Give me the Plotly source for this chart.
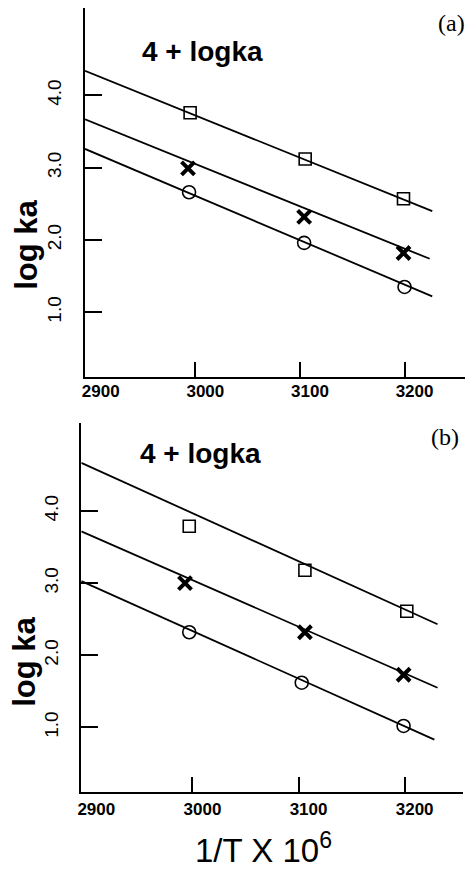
import plotly.graph_objects as go

W, H = 465, 870

# ---------------- data ----------------
# panel (a)
a_sq_x = [2995, 3105, 3199]
a_sq_y = [3.76, 3.12, 2.57]
a_cr_x = [2993, 3104, 3199]
a_cr_y = [2.99, 2.32, 1.82]
a_ci_x = [2994, 3104, 3200]
a_ci_y = [2.66, 1.96, 1.35]
a_fit_sq_x = [2894.5, 3226.5]
a_fit_sq_y = [4.34, 2.40]
a_fit_cr_x = [2894.5, 3224.0]
a_fit_cr_y = [3.67, 1.74]
a_fit_ci_x = [2894.5, 3226.5]
a_fit_ci_y = [3.26, 1.22]

# panel (b)
b_sq_x = [2997, 3106, 3202]
b_sq_y = [3.79, 3.18, 2.61]
b_cr_x = [2993, 3106, 3199]
b_cr_y = [3.00, 2.32, 1.73]
b_ci_x = [2997, 3103, 3199]
b_ci_y = [2.32, 1.62, 1.02]
b_fit_sq_x = [2895.3, 3231.0]
b_fit_sq_y = [4.67, 2.43]
b_fit_cr_x = [2895.3, 3231.0]
b_fit_cr_y = [3.72, 1.55]
b_fit_ci_x = [2895.3, 3228.0]
b_fit_ci_y = [3.03, 0.83]

x_tick_vals = [2900, 3000, 3100, 3200]
x_tick_text = ["<b>2900</b>", "<b>3000</b>", "<b>3100</b>", "<b>3200</b>"]
x_mark_vals = [3000, 3100, 3200]
y_tick_vals = [1, 2, 3, 4]
y_tick_text = ["1.0", "2.0", "3.0", "4.0"]

FONT = "Liberation Sans, Arial, sans-serif"
SERIF = "Liberation Serif, Times New Roman, serif"

fig = go.Figure()


def add_panel(xa, ya, fits, pts):
    for fx, fy in fits:
        fig.add_trace(go.Scatter(x=fx, y=fy, mode="lines", xaxis=xa, yaxis=ya,
                                 line=dict(color="black", width=1.8),
                                 showlegend=False, hoverinfo="skip"))
    for (px, py, sym, size, lw) in pts:
        fig.add_trace(go.Scatter(x=px, y=py, mode="markers", xaxis=xa, yaxis=ya,
                                 marker=dict(symbol=sym, size=size, color="black",
                                             line=dict(color="black", width=lw)),
                                 showlegend=False))


add_panel("x", "y",
          [(a_fit_sq_x, a_fit_sq_y), (a_fit_cr_x, a_fit_cr_y), (a_fit_ci_x, a_fit_ci_y)],
          [(a_sq_x, a_sq_y, "square-open", 12, 1.6),
           (a_cr_x, a_cr_y, "x-thin", 13, 4),
           (a_ci_x, a_ci_y, "circle-open", 13, 1.6)])
add_panel("x2", "y2",
          [(b_fit_sq_x, b_fit_sq_y), (b_fit_cr_x, b_fit_cr_y), (b_fit_ci_x, b_fit_ci_y)],
          [(b_sq_x, b_sq_y, "square-open", 12, 1.6),
           (b_cr_x, b_cr_y, "x-thin", 13, 4),
           (b_ci_x, b_ci_y, "circle-open", 13, 1.6)])

# invisible traces for label-only overlay axes
fig.add_trace(go.Scatter(x=[2900], y=[1], mode="markers", opacity=0, xaxis="x3",
                         yaxis="y", showlegend=False, hoverinfo="skip"))
fig.add_trace(go.Scatter(x=[2900], y=[1], mode="markers", opacity=0, xaxis="x4",
                         yaxis="y2", showlegend=False, hoverinfo="skip"))


def px2x(px):
    return px / W


def py2y(py):
    return 1 - py / H


a_xdom = [px2x(81.7), 1.0]
a_ydom = [py2y(377), py2y(8)]
b_xdom = [px2x(78), px2x(463)]
b_ydom = [py2y(792), py2y(423)]
a_xrng = [2894.5, 3257.8]
b_xrng = [2895.3, 3255.0]

xline = dict(showline=True, linecolor="black", linewidth=2, showgrid=False,
             zeroline=False, ticks="inside", ticklen=15, tickwidth=1.6,
             tickcolor="black", tickvals=x_mark_vals, showticklabels=False)
xlab = dict(showline=False, showgrid=False, zeroline=False, ticks="",
            tickvals=x_tick_vals, ticktext=x_tick_text, side="bottom",
            ticklabelshift=10, tickfont=dict(family=FONT, size=17, color="black"))
yax = dict(showline=True, linecolor="black", linewidth=2, showgrid=False,
           zeroline=False, ticks="inside", ticklen=17, tickwidth=1.6,
           tickcolor="black", tickvals=y_tick_vals, ticktext=y_tick_text,
           tickangle=-90, ticklabelstandoff=14,
           tickfont=dict(family=FONT, size=19, color="black"))

fig.update_layout(
    width=W, height=H,
    margin=dict(l=0, r=0, t=0, b=0),
    paper_bgcolor="white", plot_bgcolor="white",
    xaxis=dict(domain=a_xdom, range=a_xrng, anchor="y", **xline),
    yaxis=dict(domain=a_ydom, range=[0.104, 5.21], anchor="x", **yax),
    xaxis2=dict(domain=b_xdom, range=b_xrng, anchor="y2", **xline),
    yaxis2=dict(domain=b_ydom, range=[0.104, 5.222], anchor="x2", **yax),
    xaxis3=dict(domain=a_xdom, range=a_xrng, anchor="y", overlaying="x",
                ticklabelstandoff=2, **xlab),
    xaxis4=dict(domain=b_xdom, range=b_xrng, anchor="y2", overlaying="x2",
                ticklabelstandoff=5, **xlab),
)

ann = []
ann.append(dict(text="(a)", x=px2x(466), y=py2y(23), xanchor="right", yanchor="middle",
                font=dict(family=SERIF, size=24, color="black")))
ann.append(dict(text="(b)", x=px2x(460), y=py2y(437), xanchor="right", yanchor="middle",
                font=dict(family=SERIF, size=24, color="black")))
ann.append(dict(text="<b>4 + logka</b>", x=px2x(138), y=py2y(51), xanchor="left",
                yanchor="middle", font=dict(family=FONT, size=28, color="black")))
ann.append(dict(text="<b>4 + logka</b>", x=px2x(136), y=py2y(453), xanchor="left",
                yanchor="middle", font=dict(family=FONT, size=28, color="black")))
ann.append(dict(text="<b>log ka</b>", x=px2x(23), y=py2y(245), xanchor="center",
                yanchor="middle", textangle=-90,
                font=dict(family=FONT, size=31, color="black")))
ann.append(dict(text="<b>log ka</b>", x=px2x(20), y=py2y(662), xanchor="center",
                yanchor="middle", textangle=-90,
                font=dict(family=FONT, size=31, color="black")))
ann.append(dict(text="1/T X 10<sup>6</sup>", x=px2x(262), y=0, xanchor="center",
                yanchor="bottom", font=dict(family=FONT, size=33, color="black")))
for a in ann:
    a.update(xref="paper", yref="paper", showarrow=False, borderpad=0)
fig.update_layout(annotations=ann)

fig.write_html("out.html")
